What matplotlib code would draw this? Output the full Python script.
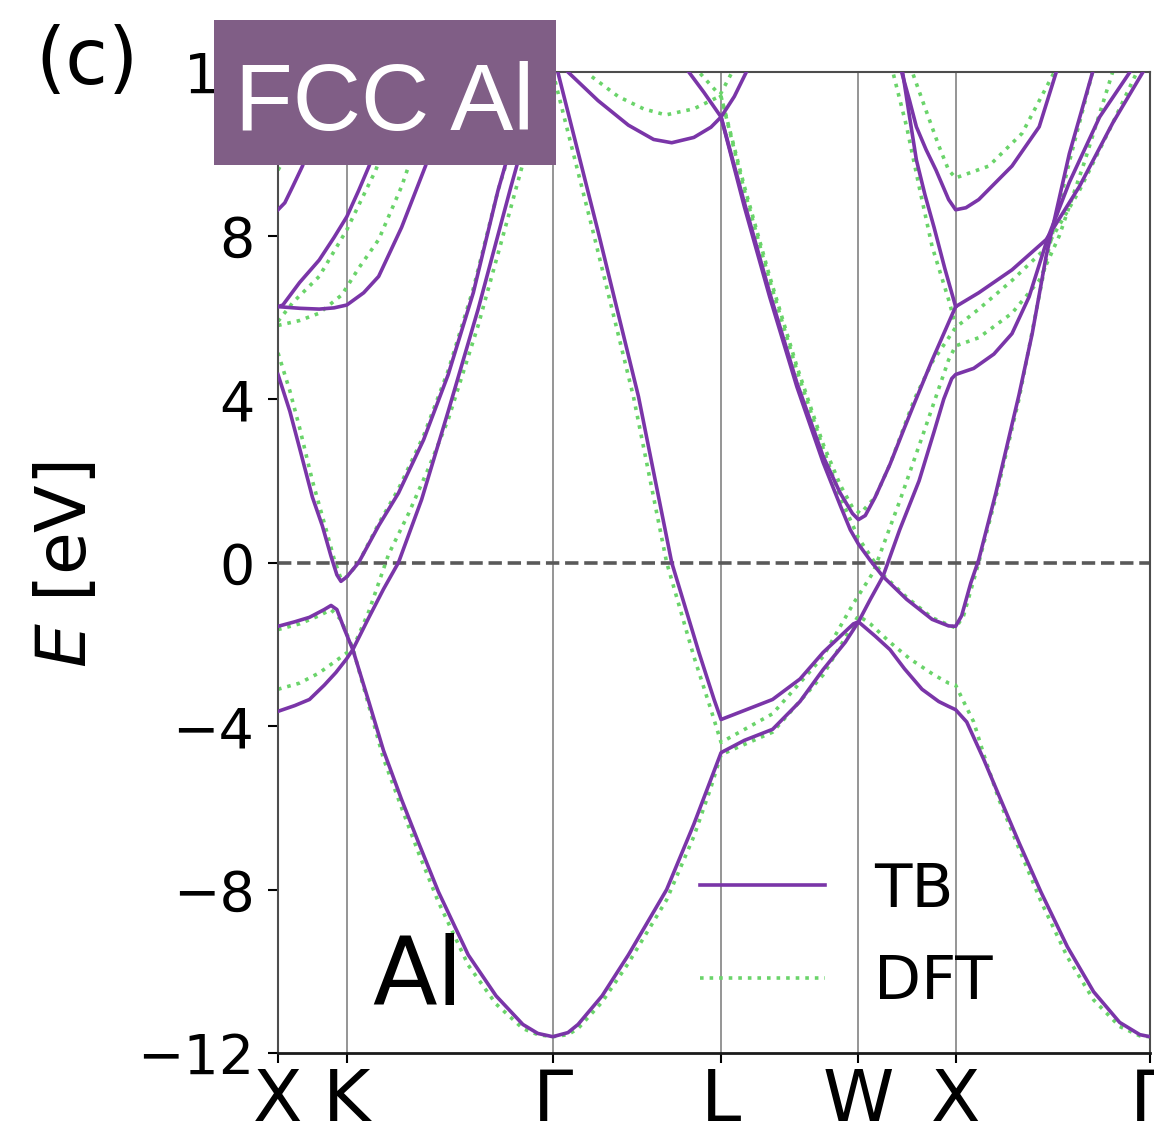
import matplotlib
matplotlib.use('Agg')
import matplotlib.pyplot as plt
from matplotlib.lines import Line2D
from matplotlib.patches import Rectangle

# high symmetry points of the fcc path, in units of 2pi/a
kpts = [0.0, 0.354, 1.414, 2.280, 2.987, 3.487, 4.487]
klabels = ['X', 'K', 'Γ', 'L', 'W', 'X', 'Γ']
yticks = [-12, -8, -4, 0, 4, 8, 12]

# ---- TB bands ----
tb1_k = [0, 0.086, 0.162, 0.238, 0.298, 0.354, 0.385, 0.467, 0.543, 0.620, 0.739, 0.876, 1.030, 1.199, 1.363, 1.389]
tb1_e = [-3.64, -3.5, -3.35, -3.0, -2.69, -2.35, -2.13, -1.35, -0.65, 0.0, 1.54, 3.7, 6.2, 9.2, 12.0, 12.4]

tb2_k = [0, 0.086, 0.162, 0.238, 0.273, 0.303, 0.339, 0.385, 0.467, 0.543, 0.636, 0.723, 0.825, 0.979, 1.122,
         1.260, 1.337, 1.414, 1.492, 1.544, 1.668, 1.803, 2.000, 2.140, 2.228, 2.280, 2.400, 2.545, 2.686, 2.805,
         2.919, 2.987, 3.073, 3.149, 3.224, 3.314, 3.400, 3.451, 3.487, 3.544, 3.632, 3.710, 3.813, 3.927, 4.062,
         4.197, 4.331, 4.435, 4.487]
tb2_e = [-1.56, -1.45, -1.34, -1.15, -1.05, -1.15, -1.6, -2.13, -3.4, -4.6, -5.8, -6.85, -8.05, -9.6, -10.6,
         -11.3, -11.52, -11.6, -11.5, -11.3, -10.6, -9.6, -8.0, -6.4, -5.3, -4.65, -4.35, -4.08, -3.4, -2.62,
         -1.95, -1.45, -1.8, -2.13, -2.6, -3.1, -3.4, -3.52, -3.6, -3.9, -4.82, -5.7, -6.85, -8.07, -9.4,
         -10.5, -11.25, -11.55, -11.6]

tb3_k = [0, 0.061, 0.111, 0.177, 0.228, 0.273, 0.303, 0.324, 0.354, 0.415, 0.518, 0.620, 0.749, 0.876, 1.005, 1.132, 1.235, 1.337]
tb3_e = [4.6, 3.7, 2.8, 1.6, 0.9, 0.15, -0.3, -0.46, -0.35, 0.0, 0.9, 1.7, 3.0, 4.6, 6.6, 9.1, 10.8, 12.3]

tb4_k = [0, 0.025, 0.111, 0.212, 0.288, 0.354, 0.415, 0.467, 0.543, 0.646, 0.697]
tb4_e = [6.26, 6.3, 6.85, 7.4, 7.95, 8.46, 9.1, 9.68, 10.6, 12.0, 12.7]

tb5_k = [0, 0.111, 0.212, 0.288, 0.354, 0.441, 0.518, 0.636, 0.759, 0.851, 0.928, 0.979]
tb5_e = [6.26, 6.22, 6.2, 6.23, 6.3, 6.6, 7.0, 8.2, 9.7, 11.0, 12.0, 12.7]

tb6_k = [0, 0.035, 0.076, 0.126, 0.177, 0.223, 0.263, 0.288]
tb6_e = [8.63, 8.8, 9.2, 9.7, 10.4, 11.2, 12.0, 12.4]

tb7_k = [1.414, 1.440, 1.647, 1.855, 2.026, 2.166, 2.244, 2.280, 2.545, 2.686, 2.805, 2.961, 2.987, 3.048,
         3.113, 3.199, 3.299, 3.376, 3.426, 3.467, 3.487, 3.580, 3.684, 3.777, 3.865, 3.958, 4.072, 4.228, 4.384, 4.42]
tb7_e = [12.5, 12.0, 8.1, 4.06, 0.0, -2.2, -3.35, -3.84, -3.35, -2.85, -2.2, -1.5, -1.45, -0.9,
         -0.34, 0.8, 2.0, 3.2, 4.0, 4.5, 4.6, 4.75, 5.1, 5.6, 6.5, 7.9, 9.3, 10.9, 12.0, 12.3]

tb8_k = [1.46, 1.492, 1.647, 1.803, 1.933, 2.026, 2.140, 2.228, 2.280, 2.348, 2.410, 2.44]
tb8_e = [12.4, 12.0, 11.3, 10.7, 10.35, 10.27, 10.4, 10.65, 10.9, 11.4, 12.0, 12.3]

tb9_k = [2.052, 2.114, 2.192, 2.280, 2.400, 2.530, 2.670, 2.805, 2.893, 2.956, 2.987, 3.022, 3.073, 3.149,
         3.224, 3.275, 3.366, 3.426, 3.487, 3.606, 3.777, 3.953, 4.124, 4.295, 4.451, 4.47]
tb9_e = [12.4, 12.0, 11.5, 10.9, 8.8, 6.6, 4.4, 2.6, 1.7, 1.2, 1.05, 1.15, 1.6, 2.4,
         3.3, 3.9, 4.95, 5.6, 6.26, 6.6, 7.16, 7.9, 9.2, 10.75, 12.0, 12.2]

tb10_k = [2.280, 2.400, 2.530, 2.670, 2.805, 2.893, 2.945, 2.987, 3.048, 3.113, 3.235, 3.366, 3.451, 3.487,
          3.518, 3.565, 3.606, 3.694, 3.813, 3.881, 3.953, 4.072, 4.192, 4.22]
tb10_e = [10.9, 8.7, 6.5, 4.3, 2.45, 1.4, 0.8, 0.45, 0.05, -0.34, -0.9, -1.39, -1.55, -1.56,
          -1.3, -0.5, 0.07, 1.7, 4.1, 5.6, 7.5, 10.0, 12.0, 12.5]

tb11_k = [3.19, 3.209, 3.250, 3.285, 3.335, 3.386, 3.451, 3.487, 3.540, 3.606, 3.777, 3.917, 4.005, 4.02]
tb11_e = [12.4, 12.0, 11.3, 10.66, 10.1, 9.6, 8.88, 8.63, 8.68, 8.88, 9.7, 10.66, 12.0, 12.3]

tb12_k = [3.200, 3.214, 3.250, 3.285, 3.329, 3.376, 3.431, 3.487]
tb12_e = [12.4, 12.0, 10.9, 9.85, 9.0, 8.2, 7.2, 6.26]

# ---- DFT bands ----
dft1_k = [0, 0.111, 0.212, 0.314, 0.385, 0.467, 0.569, 0.672, 0.774, 0.876, 1.030, 1.199, 1.389, 1.41]
dft1_e = [-3.1, -2.95, -2.7, -2.35, -2.1, -1.2, 0.2, 1.2, 2.3, 3.5, 5.8, 8.7, 12.0, 12.3]

dft2_k = [0, 0.111, 0.212, 0.273, 0.324, 0.385, 0.467, 0.543, 0.636, 0.723, 0.825, 0.979, 1.122, 1.260,
          1.337, 1.414, 1.492, 1.544, 1.668, 1.803, 2.000, 2.140, 2.228, 2.280, 2.400, 2.545, 2.805, 2.987,
          3.048, 3.149, 3.250, 3.376, 3.451, 3.487, 3.528, 3.580, 3.632, 3.710, 3.813, 3.927, 4.062, 4.197,
          4.331, 4.435, 4.487]
dft2_e = [-1.64, -1.5, -1.3, -1.15, -1.4, -2.1, -3.5, -4.8, -6.0, -7.1, -8.3, -9.85, -10.8, -11.4,
          -11.55, -11.6, -11.55, -11.4, -10.75, -9.8, -8.25, -6.7, -5.5, -4.7, -4.45, -4.15, -2.75, -1.3,
          -1.5, -1.95, -2.35, -2.75, -2.95, -3.0, -3.4, -3.9, -4.7, -5.8, -7.0, -8.3, -9.65, -10.7,
          -11.35, -11.58, -11.6]

dft3_k = [0, 0.061, 0.111, 0.177, 0.248, 0.288, 0.324, 0.354, 0.415, 0.518, 0.620, 0.749, 0.876, 1.005, 1.132, 1.235, 1.337]
dft3_e = [5.13, 4.2, 3.3, 2.0, 0.8, 0.1, -0.4, -0.35, 0.0, 0.95, 1.8, 3.1, 4.7, 6.7, 9.1, 10.7, 12.2]

dft4_k = [0, 0.111, 0.212, 0.329, 0.415, 0.518, 0.636, 0.723, 0.825, 0.85]
dft4_e = [5.8, 5.92, 6.1, 6.55, 7.2, 7.9, 9.2, 10.4, 12.0, 12.4]

dft5_k = [0, 0.076, 0.212, 0.354, 0.503, 0.595, 0.697, 0.72]
dft5_e = [5.9, 6.36, 7.0, 8.14, 9.6, 10.8, 12.0, 12.3]

dft6_k = [0, 0.061, 0.111, 0.172, 0.223, 0.25]
dft6_e = [9.6, 10.1, 10.7, 11.4, 12.0, 12.3]

dft7_k = [1.414, 1.621, 1.829, 2.000, 2.140, 2.228, 2.280, 2.545, 2.805, 2.961, 3.063, 3.199, 3.324, 3.451,
          3.487, 3.606, 3.777, 3.917, 4.021, 4.150, 4.295, 4.32]
dft7_e = [12.0, 8.1, 4.06, 0.0, -2.3, -3.6, -4.4, -3.7, -2.3, -1.0, -0.24, 1.5, 3.2, 4.96,
          5.3, 5.5, 6.1, 6.9, 8.0, 9.8, 12.0, 12.4]

dft8_k = [1.57, 1.611, 1.751, 1.881, 1.995, 2.140, 2.270, 2.337, 2.36]
dft8_e = [12.3, 11.9, 11.4, 11.1, 10.95, 11.1, 11.4, 12.0, 12.3]

dft9_k = [2.14, 2.166, 2.280, 2.400, 2.530, 2.670, 2.805, 2.893, 2.956, 2.997, 3.073, 3.149, 3.275, 3.366,
          3.487, 3.606, 3.777, 3.953, 4.124, 4.280, 4.420, 4.44]
dft9_e = [12.4, 12.0, 11.4, 9.2, 7.0, 4.8, 2.9, 1.9, 1.35, 1.2, 1.6, 2.4, 4.0, 4.9,
          5.75, 6.2, 6.9, 7.7, 9.1, 10.6, 12.0, 12.3]

dft10_k = [2.280, 2.400, 2.530, 2.670, 2.805, 2.893, 2.987, 3.113, 3.235, 3.366, 3.487, 3.528, 3.606, 3.694,
           3.813, 3.953, 4.072, 4.192, 4.22]
dft10_e = [11.4, 9.1, 6.9, 4.7, 2.8, 1.6, 0.6, -0.3, -0.85, -1.35, -1.6, -1.3, 0.0, 1.6,
           4.0, 7.4, 9.8, 12.0, 12.4]

dft11_k = [3.25, 3.264, 3.324, 3.400, 3.451, 3.487, 3.658, 3.829, 3.995, 4.02]
dft11_e = [12.4, 12.0, 11.2, 10.2, 9.6, 9.41, 9.7, 10.5, 12.0, 12.3]

dft12_k = [3.15, 3.164, 3.235, 3.299, 3.366, 3.451, 3.487]
dft12_e = [12.4, 12.0, 10.66, 9.2, 7.73, 6.43, 5.8]

tb_bands = [(tb1_k, tb1_e), (tb2_k, tb2_e), (tb3_k, tb3_e), (tb4_k, tb4_e), (tb5_k, tb5_e),
            (tb6_k, tb6_e), (tb7_k, tb7_e), (tb8_k, tb8_e), (tb9_k, tb9_e), (tb10_k, tb10_e),
            (tb11_k, tb11_e), (tb12_k, tb12_e)]
dft_bands = [(dft1_k, dft1_e), (dft2_k, dft2_e), (dft3_k, dft3_e), (dft4_k, dft4_e), (dft5_k, dft5_e),
             (dft6_k, dft6_e), (dft7_k, dft7_e), (dft8_k, dft8_e), (dft9_k, dft9_e), (dft10_k, dft10_e),
             (dft11_k, dft11_e), (dft12_k, dft12_e)]

purple = '#7a35a8'
green = '#6ad46a'

fig = plt.figure(figsize=(11.54, 11.45), dpi=100)
ax = fig.add_axes([0.2409, 0.0803, 0.7556, 0.8568])

for x in kpts:
    ax.axvline(x, color='0.55', lw=1.3, zorder=1)
ax.axhline(0, color='0.35', lw=2.6, ls='--', zorder=1.5)

for k, e in dft_bands:
    ax.plot(k, e, color=green, lw=2.6, ls=':', zorder=2)
for k, e in tb_bands:
    ax.plot(k, e, color=purple, lw=2.6, zorder=3, solid_joinstyle='round')

ax.set_xlim(kpts[0], kpts[-1])
ax.set_ylim(-12, 12)
ax.set_xticks(kpts)
ax.set_xticklabels(klabels)
ax.set_yticks(yticks)
ax.tick_params(axis='y', labelsize=40, length=7, width=1.5, pad=10)
ax.tick_params(axis='x', labelsize=52, length=7, width=1.5, pad=3)
for s in ax.spines.values():
    s.set_color('0.3')
    s.set_linewidth(1.5)
ax.spines['bottom'].set_color('0.1')
ax.spines['bottom'].set_linewidth(2)

ax.text(0.108, 0.049, 'Al', transform=ax.transAxes, fontsize=68, va='baseline', ha='left')

handles = [Line2D([], [], color=purple, lw=2.6),
           Line2D([], [], color=green, lw=2.6, ls=':')]
ax.legend(handles, ['TB', 'DFT'], loc='upper left', bbox_to_anchor=(0.484, 0.196),
          frameon=False, fontsize=44, handlelength=2.05, handletextpad=0.8,
          labelspacing=0.55, borderpad=0, borderaxespad=0)

fig.text(67 / 1154, 1 - 565 / 1145, '$E$ [eV]', rotation=90, ha='center', va='center', fontsize=50)
fig.text(35 / 1154, 1 - 62 / 1145, '(c)', ha='left', va='center', fontsize=56)

# title badge
fig.add_artist(Rectangle((214 / 1154, 1 - 165 / 1145), 342 / 1154, 145 / 1145,
                         transform=fig.transFigure, facecolor='#805e86', edgecolor='none', zorder=5))
fig.text(235 / 1154, 1 - 130 / 1145, 'FCC Al', color='white', fontsize=68,
         family='Liberation Sans', ha='left', va='baseline', zorder=6)

fig.savefig('out.png', dpi=100)
